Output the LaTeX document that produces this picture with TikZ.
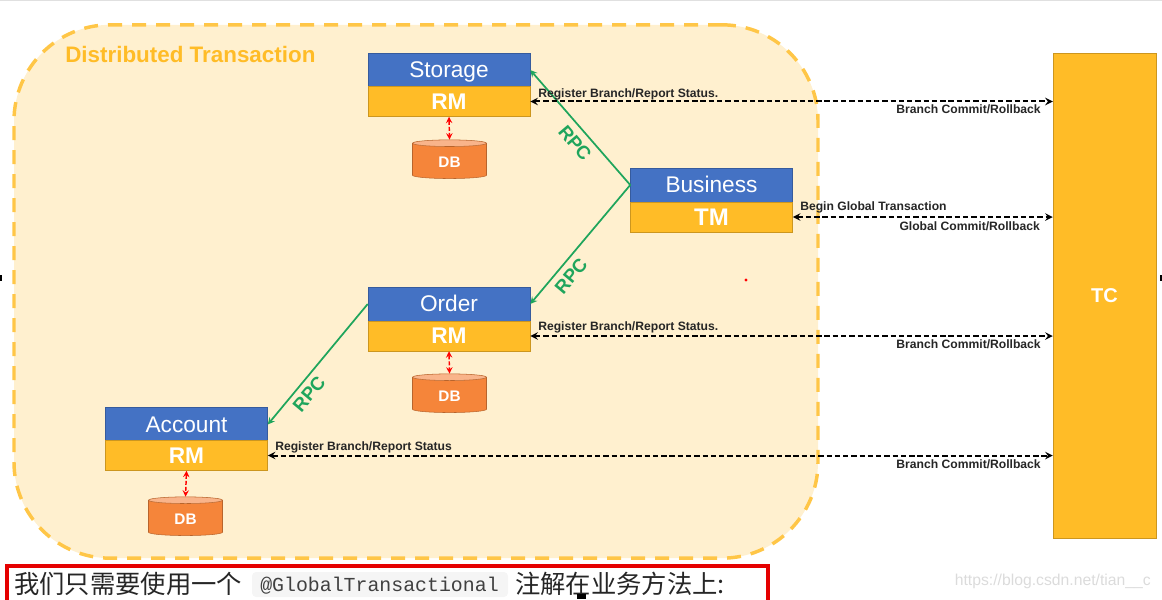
\documentclass[tikz,border=0pt]{standalone}
\usepackage{fontspec}
\setmainfont{Liberation Sans}
\setmonofont{Liberation Mono}
\newfontfamily\cjkfont{Noto Sans CJK SC}
\usetikzlibrary{shapes.geometric}
\definecolor{boxblue}{HTML}{4472C4}
\definecolor{boxyellow}{HTML}{FFBC27}
\definecolor{regionfill}{HTML}{FFF0CF}
\definecolor{rpcgreen}{HTML}{1FA55C}
\definecolor{dborange}{HTML}{F5853A}
\definecolor{dbtop}{HTML}{F9B48A}
\tikzset{
  region/.style={draw=boxyellow!85!white, fill=regionfill, line width=2.6pt, dash pattern=on 10.5pt off 7.5pt, rounded corners=72pt, minimum width=603pt, minimum height=400pt, inner sep=0pt},
  namebox/.style={draw=boxblue!80!black, fill=boxblue, text=white, font=\fontsize{17}{17}\selectfont, text height=14pt, text depth=2.5pt, minimum width=121.5pt, minimum height=25.5pt, inner sep=0pt},
  rolebox/.style={draw=boxyellow!80!black, fill=boxyellow, text=white, font=\fontsize{17}{17}\bfseries\selectfont, minimum width=121.5pt, minimum height=22.5pt, inner sep=0pt},
  dbstack/.style={shape=cylinder, shape border rotate=90, aspect=0.3, draw=dborange!75!black, cylinder uses custom fill, cylinder body fill=dborange, cylinder end fill=dbtop, text=white, font=\fontsize{11.5}{12}\bfseries\selectfont, text height=10pt, minimum width=55.5pt, minimum height=29pt, inner sep=0pt},
  rpcline/.style={draw=rpcgreen, line width=1.3pt, ->, >=stealth},
  rpclabel/.style={text=rpcgreen, font=\fontsize{14}{14}\bfseries\selectfont, inner sep=0pt},
  txline/.style={draw=black, line width=1.5pt, dash pattern=on 4pt off 2.2pt, <->, >=stealth},
  dbline/.style={draw=red, line width=1.1pt, dash pattern=on 3pt off 1.5pt, <->, >=stealth},
  txlabel/.style={text=black!85, font=\fontsize{9.1}{10}\bfseries\selectfont, inner sep=0pt},
}
\begin{document}
\begin{tikzpicture}[x=0.75pt, y=-0.75pt]
    \useasboundingbox (0,0) rectangle (1162,599);
    \clip (0,0) rectangle (1162,599);
    \fill[black!12] (0,0) rectangle (1162,1.5);

    % Region
    \node[region] (Region) at (416,291.5) {};
    \node[anchor=west, text=boxyellow, inner sep=0pt, font=\fontsize{16.8}{17}\bfseries\selectfont] (RegionTitle) at (65,54) {Distributed Transaction};

    % Services
    \node[namebox] (Storage) at (449,70) {Storage};
    \node[rolebox] (StorageRM) at (449,101.5) {RM};
    \node[namebox] (Business) at (711.5,185) {Business};
    \node[rolebox, font=\fontsize{18}{18}\bfseries\selectfont] (BusinessTM) at (711.5,217) {TM};
    \node[namebox] (Order) at (449,304) {Order};
    \node[rolebox] (OrderRM) at (449,336) {RM};
    \node[namebox] (Account) at (186.5,424.5) {Account};
    \node[rolebox] (AccountRM) at (186.5,455.5) {RM};

    % Databases
    \node[dbstack] (StorageDB) at (449.5,161) {DB};
    \node[dbstack] (OrderDB) at (449.5,395) {DB};
    \node[dbstack] (AccountDB) at (185.5,518) {DB};

    % TC
    \node[draw=boxyellow!80!black, fill=boxyellow, text=white, font=\fontsize{15}{15}\bfseries\selectfont, minimum width=77.25pt, minimum height=363.75pt, inner sep=0pt] (TC) at (1104.5,295.5) {TC};

    % RPC
    \draw[rpcline] (Business.west) -- (Storage.east);
    \draw[rpcline] (Business.west) -- (Order.east);
    \draw[rpcline] (Order.west) -- (Account.east);
    \node[rpclabel, rotate=-50] (RpcStorage) at (575,143) {RPC};
    \node[rpclabel, rotate=50] (RpcOrder) at (571,276) {RPC};
    \node[rpclabel, rotate=50] (RpcAccount) at (309,394) {RPC};

    % DB links
    \draw[dbline] (StorageRM.south) -- (StorageDB.north);
    \draw[dbline] (OrderRM.south) -- (OrderDB.north);
    \draw[dbline] (AccountRM.south) -- (AccountDB.north);

    % Transaction links
    \draw[txline] (StorageRM.east) -- (StorageRM.east -| TC.west);
    \draw[txline] (BusinessTM.east) -- (BusinessTM.east -| TC.west);
    \draw[txline] (OrderRM.east) -- (OrderRM.east -| TC.west);
    \draw[txline] (AccountRM.east) -- (AccountRM.east -| TC.west);

    % Link texts
    \node[txlabel, anchor=west] (StorageUp) at (538,94) {Register Branch/Report Status.};
    \node[txlabel, anchor=east] (StorageDown) at (1041,109) {Branch Commit/Rollback};
    \node[txlabel, anchor=west] (BusinessUp) at (800,207) {Begin Global Transaction};
    \node[txlabel, anchor=east] (BusinessDown) at (1040,226) {Global Commit/Rollback};
    \node[txlabel, anchor=west] (OrderUp) at (538,327.5) {Register Branch/Report Status.};
    \node[txlabel, anchor=east] (OrderDown) at (1041,344) {Branch Commit/Rollback};
    \node[txlabel, anchor=west] (AccountUp) at (275,447.5) {Register Branch/Report Status};
    \node[txlabel, anchor=east] (AccountDown) at (1041,464) {Branch Commit/Rollback};

    % Caption
    \draw[red!90!black, line width=2.6pt] (7,566) rectangle (768,603);
    \fill[black!4, rounded corners=3pt] (252,572) rectangle (508,597);
    \node[anchor=west, text=black!85, inner sep=0pt, font=\fontsize{19}{19}\cjkfont] (CaptionLeft) at (14,584) {我们只需要使用一个};
    \node[anchor=west, text=black!75, inner sep=0pt, font=\fontsize{14.9}{15}\ttfamily] (CaptionCode) at (260,586) {@GlobalTransactional};
    \node[anchor=west, text=black!85, inner sep=0pt, font=\fontsize{19}{19}\cjkfont] (CaptionRight) at (515,584) {注解在业务方法上:};
    \node[anchor=east, text=black!14, inner sep=0pt, font=\fontsize{11.8}{12}\selectfont] (Watermark) at (1151,581) {https://blog.csdn.net/tian\_\_c};

    % Marks
    \fill[red] (746,280) circle (1.2pt);
    \fill[black] (0,275) rectangle (2,281);
    \fill[black] (1160,275) rectangle (1162,281);
    \fill[black] (577,594) rectangle (586,599);
\end{tikzpicture}
\end{document}
